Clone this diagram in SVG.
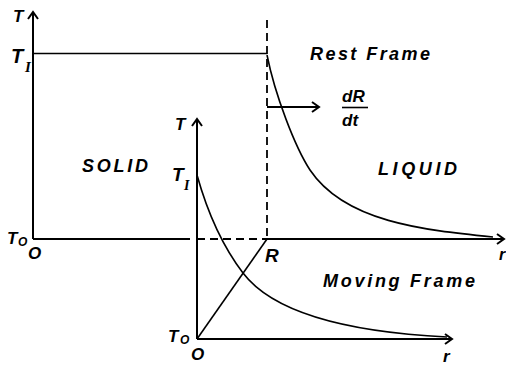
<svg xmlns="http://www.w3.org/2000/svg" width="506" height="370" viewBox="0 0 506 370">
<style>
  .ax { stroke:#000; stroke-width:2; fill:none; }
  .cv { stroke:#000; stroke-width:1.6; fill:none; }
  .ds { stroke:#000; stroke-width:1.8; fill:none; stroke-dasharray:8 5; }
  .t { font-family:"Liberation Sans", Arial, sans-serif; font-weight:bold; font-style:italic; fill:#000; }
  .s { font-family:"Liberation Serif", "Times New Roman", serif; font-weight:bold; font-style:italic; fill:#000; }
</style>
<defs>
  <marker id="arr" markerUnits="userSpaceOnUse" markerWidth="14" markerHeight="14" refX="10" refY="7" orient="auto" viewBox="0 0 14 14">
    <path d="M3,2 L10,7 L3,12" fill="none" stroke="#000" stroke-width="2"/>
  </marker>
</defs>
<g id="connectors">
  <path class="ax" d="M33,239 L33,12" marker-end="url(#arr)"/>
  <path class="ax" d="M33,239 L190,239"/>
  <path class="ds" d="M197,239 L267,239" stroke-dasharray="9 4"/>
  <path class="ax" d="M267,239 L504,239" marker-end="url(#arr)"/>
  <path class="cv" d="M33,53.5 L267,53.5"/>
  <path class="ds" d="M267,20 L267,239"/>
  <path class="cv" d="M267,55 C275,95 295,147 310,170 C345,222 423,230 493,237"/>
  <path class="ax" d="M267,107 L319,107" marker-end="url(#arr)"/>
  <path class="ax" d="M197,339 L197,119" marker-end="url(#arr)"/>
  <path class="ax" d="M197,339 L452,339" marker-end="url(#arr)"/>
  <path class="cv" d="M197,339 L267,239"/>
  <path class="cv" d="M197,175 C209,218 227,252 243,273 C278,319 367,333 447,337"/>
  <path d="M342,107.5 L368,107.5" stroke="#000" stroke-width="1.6"/>
</g>
<g id="labels">
  <text class="t" x="13" y="22" font-size="17">T</text>
  <text class="t" x="11" y="63" font-size="20">T<tspan class="s" x="25" y="72" font-size="15">I</tspan></text>
  <text class="t" x="7" y="244" font-size="17">T<tspan x="18" y="246" font-size="12">O</tspan></text>
  <text class="t" x="28" y="259" font-size="17">O</text>
  <text class="t" x="499" y="260" font-size="16">r</text>
  <text class="t" x="265" y="262" font-size="19">R</text>
  <text class="t" x="310" y="60" font-size="18" textLength="120" lengthAdjust="spacing">Rest Frame</text>
  <text class="t" x="82" y="172" font-size="18" textLength="66" lengthAdjust="spacing">SOLID</text>
  <text class="t" x="378" y="175" font-size="18" textLength="79" lengthAdjust="spacing">LIQUID</text>
  <text class="t" x="323" y="287" font-size="18" textLength="152" lengthAdjust="spacing">Moving Frame</text>
  <text class="t" x="342" y="102" font-size="17">dR</text>
  <text class="t" x="342" y="126" font-size="17">dt</text>
  <text class="t" x="175" y="130" font-size="17">T</text>
  <text class="t" x="172" y="181" font-size="19">T<tspan class="s" x="184" y="190" font-size="14">I</tspan></text>
  <text class="t" x="168" y="342" font-size="17">T<tspan x="180" y="344" font-size="12">O</tspan></text>
  <text class="t" x="191" y="360" font-size="17">O</text>
  <text class="t" x="443" y="362" font-size="17">r</text>
</g>
</svg>
